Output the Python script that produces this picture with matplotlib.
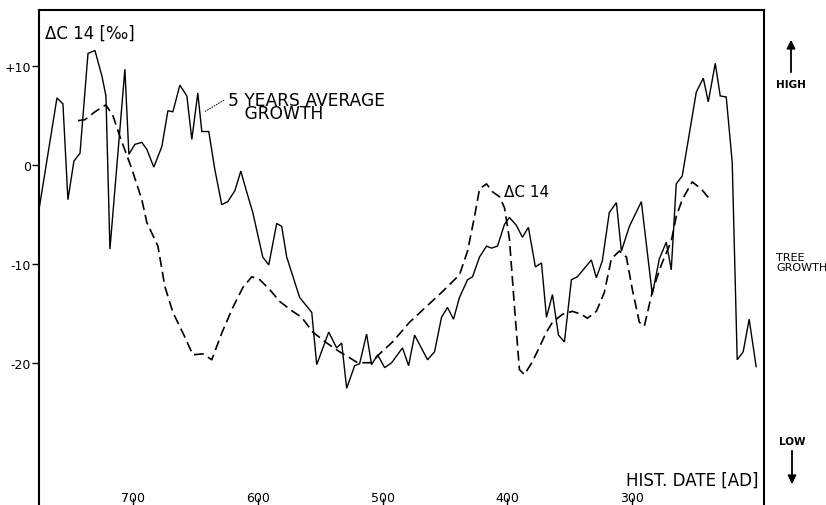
import matplotlib
matplotlib.use("Agg")
import matplotlib.pyplot as plt

# 5 years average growth (solid line)
growth_date = [775.6, 761.2, 756.4, 752.4, 747.6, 742.7, 736.3, 730.7, 725.1, 721.9,
               718.7, 706.7, 703.5, 698.7, 693.1, 689.1, 683.5, 677.0, 672.2, 668.2,
               662.6, 657.0, 653.0, 648.2, 645.0, 639.4, 634.6, 629.0, 624.2, 618.5,
               613.7, 609.7, 604.1, 596.1, 591.3, 584.9, 580.9, 576.9, 566.5, 556.8,
               552.8, 543.2, 536.8, 532.8, 528.8, 522.4, 518.4, 512.8, 508.8, 504.0,
               498.3, 492.7, 484.0, 479.1, 474.3, 463.9, 458.3, 452.7, 447.9, 443.1,
               438.3, 431.8, 427.8, 422.2, 416.6, 412.6, 407.8, 402.2, 398.2, 392.6,
               387.8, 383.0, 377.4, 372.5, 368.5, 363.7, 358.9, 354.1, 348.5, 343.7,
               332.5, 328.5, 323.7, 318.1, 312.4, 308.4, 302.0, 292.4, 283.6, 278.0,
               272.4, 268.4, 264.4, 259.6, 248.3, 242.7, 238.7, 233.1, 229.1, 224.3,
               219.5, 215.5, 210.7, 205.9, 200.3]
growth_val = [-4.5, 6.8, 6.2, -3.5, 0.4, 1.2, 11.3, 11.6, 9.0, 7.0,
              -8.5, 9.7, 1.1, 2.1, 2.3, 1.6, -0.2, 1.9, 5.5, 5.4,
              8.1, 7.0, 2.6, 7.3, 3.4, 3.4, -0.4, -4.0, -3.7, -2.6,
              -0.6, -2.4, -4.8, -9.3, -10.1, -5.9, -6.2, -9.3, -13.4, -14.9,
              -20.2, -16.9, -18.5, -18.0, -22.6, -20.3, -20.1, -17.1, -20.2, -19.2,
              -20.5, -20.0, -18.5, -20.3, -17.2, -19.7, -18.9, -15.4, -14.4, -15.6,
              -13.4, -11.6, -11.3, -9.3, -8.2, -8.4, -8.2, -6.0, -5.3, -6.1,
              -7.3, -6.3, -10.3, -9.9, -15.4, -13.1, -17.2, -17.9, -11.6, -11.3,
              -9.6, -11.4, -9.7, -4.8, -3.8, -8.7, -6.2, -3.7, -13.1, -9.5,
              -7.8, -10.6, -1.9, -1.1, 7.4, 8.8, 6.4, 10.3, 7.0, 6.9,
              0.3, -19.7, -18.9, -15.6, -20.4]

# Delta C 14 (dashed line)
c14_date = [744.3, 738.7, 730.7, 721.9, 716.3, 710.7, 701.1, 693.1, 689.1, 680.2,
            674.6, 668.2, 658.6, 652.2, 644.2, 637.0, 629.0, 620.1, 612.1, 604.9,
            598.5, 590.5, 582.5, 572.1, 564.9, 556.0, 544.8, 534.4, 526.4, 520.0,
            508.8, 502.4, 492.0, 478.3, 464.7, 451.9, 438.3, 431.8, 426.2, 422.2,
            416.6, 411.8, 406.2, 402.2, 398.2, 394.2, 390.2, 386.2, 379.8, 374.1,
            368.5, 363.7, 355.7, 347.7, 340.5, 335.7, 328.5, 322.1, 316.5, 310.1,
            304.4, 299.6, 294.0, 290.0, 283.6, 276.4, 268.4, 264.4, 259.6, 251.6,
            244.4, 237.2]
c14_val = [4.5, 4.6, 5.4, 6.1, 5.0, 2.9, -0.4, -3.5, -5.8, -8.2,
           -12.3, -14.9, -17.4, -19.2, -19.1, -19.7, -17.0, -14.4, -12.4, -11.3,
           -11.6, -12.6, -13.8, -14.8, -15.4, -16.9, -18.0, -18.9, -19.5, -20.0,
           -20.0, -19.1, -17.9, -15.9, -14.3, -12.8, -11.1, -8.7, -5.2, -2.4,
           -1.9, -2.7, -3.2, -4.3, -7.5, -14.3, -20.7, -21.2, -19.9, -18.4,
           -16.9, -15.9, -15.1, -14.8, -15.1, -15.5, -14.8, -12.9, -9.5, -8.7,
           -9.3, -12.6, -15.9, -16.3, -12.8, -10.1, -7.7, -5.2, -3.5, -1.7,
           -2.4, -3.5]

x_ticks = [700, 600, 500, 400, 300]
x_tick_labels = ["700", "600", "500", "400", "300"]
y_ticks = [10, 0, -10, -20]
y_tick_labels = ["+10", "0", "-10", "-20"]

W, H = 826, 506
fig = plt.figure(figsize=(W / 100, H / 100), dpi=100)
ax = fig.add_axes([39 / W, 0.0, (764 - 39) / W, (506 - 11) / H])

ax.plot(growth_date, growth_val, color="black", lw=1.0, solid_joinstyle="miter")
ax.plot(c14_date, c14_val, color="black", lw=1.2, linestyle=(0, (6, 3)))

ax.set_xlim(775.6, 194)
ax.set_ylim(-34.4, 15.7)

ax.set_xticks(x_ticks)
ax.set_xticklabels(x_tick_labels)
ax.set_yticks(y_ticks)
ax.set_yticklabels(y_tick_labels)
ax.tick_params(axis="x", direction="in", length=5, width=1.0, pad=-10, labelsize=9)
ax.tick_params(axis="y", direction="out", length=5, width=1.0, pad=1, labelsize=9)

for side in ["left", "top", "right"]:
    ax.spines[side].set_linewidth(1.5)
ax.spines["bottom"].set_visible(False)

ax.text(0.008, 0.955, "ΔC 14 [‰]", transform=ax.transAxes, fontsize=12,
        ha="left", va="center")

ax.annotate("", xy=(644.2, 5.3), xytext=(625.5, 6.7),
            arrowprops=dict(arrowstyle="-", lw=0.7, linestyle=":", color="black"))
ax.text(624.2, 5.95, "5 YEARS AVERAGE\n   GROWTH", fontsize=12.3, ha="left",
        va="center", linespacing=0.68)
ax.text(402.5, -2.7, "ΔC 14", fontsize=11, ha="left", va="center")

ax.text(0.993, 0.052, "HIST. DATE [AD]", transform=ax.transAxes, fontsize=12,
        ha="right", va="center")

def fx(x):
    return x / W

def fy(y):
    return 1 - y / H

fig.text(fx(791), fy(85), "HIGH", fontsize=7.5, fontweight="bold", ha="center", va="center")
fig.text(fx(776), fy(263), "TREE\nGROWTH", fontsize=8, ha="left", va="center", linespacing=1.0)
fig.text(fx(792), fy(442), "LOW", fontsize=7.5, fontweight="bold", ha="center", va="center")

fig.patches.append(matplotlib.patches.FancyArrowPatch(
    (fx(791), fy(76)), (fx(791), fy(38)), transform=fig.transFigure,
    arrowstyle="-|>,head_length=5,head_width=2.5", lw=1.3, color="black"))
fig.patches.append(matplotlib.patches.FancyArrowPatch(
    (fx(792), fy(449)), (fx(792), fy(488)), transform=fig.transFigure,
    arrowstyle="-|>,head_length=5,head_width=2.5", lw=1.3, color="black"))

fig.savefig("out.png", dpi=100)
